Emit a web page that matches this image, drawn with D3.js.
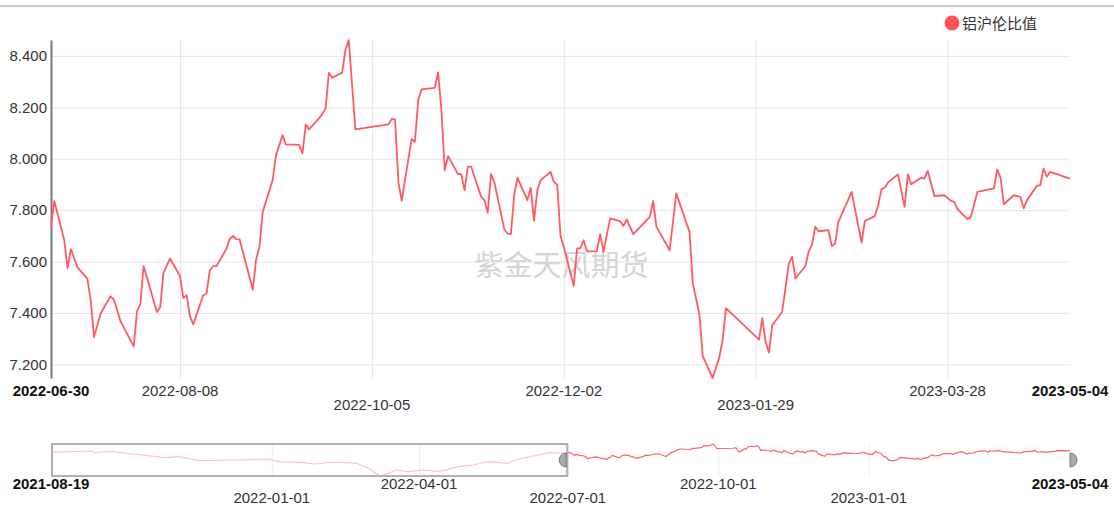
<!DOCTYPE html>
<html>
<head>
<meta charset="utf-8">
<script src="https://cdn.jsdelivr.net/npm/d3@7"></script>
<style>
body { margin: 0; background: #fff; }
text { font-family: "Liberation Sans", Arial, "Noto Sans CJK SC", sans-serif; }
</style>
</head>
<body>
<svg id="chart" width="1114" height="506"></svg>
<script>
// series shown in the main window
var dates = [
  "2022-06-30",
  "2022-07-01","2022-07-04","2022-07-05","2022-07-06","2022-07-08","2022-07-11","2022-07-12","2022-07-13","2022-07-15","2022-07-18","2022-07-19","2022-07-21","2022-07-25","2022-07-26","2022-07-27","2022-07-28",
  "2022-08-01","2022-08-02","2022-08-03","2022-08-05","2022-08-08","2022-08-09","2022-08-10","2022-08-11","2022-08-12","2022-08-15","2022-08-16","2022-08-17","2022-08-18","2022-08-19","2022-08-22","2022-08-23","2022-08-24","2022-08-25","2022-08-26","2022-08-30","2022-08-31",
  "2022-09-01","2022-09-02","2022-09-05","2022-09-06","2022-09-08","2022-09-09","2022-09-13","2022-09-14","2022-09-15","2022-09-16","2022-09-19","2022-09-20","2022-09-21","2022-09-22","2022-09-23","2022-09-26","2022-09-27","2022-09-28","2022-09-30",
  "2022-10-10","2022-10-11","2022-10-12","2022-10-13","2022-10-14","2022-10-17","2022-10-18","2022-10-19","2022-10-20","2022-10-24","2022-10-25","2022-10-26","2022-10-27","2022-10-28","2022-10-31",
  "2022-11-01","2022-11-02","2022-11-03","2022-11-04","2022-11-07","2022-11-08","2022-11-09","2022-11-10","2022-11-11","2022-11-14","2022-11-15","2022-11-16","2022-11-17","2022-11-18","2022-11-21","2022-11-22","2022-11-23","2022-11-24","2022-11-25","2022-11-28","2022-11-29","2022-11-30",
  "2022-12-01","2022-12-02","2022-12-05","2022-12-06","2022-12-07","2022-12-08","2022-12-09","2022-12-12","2022-12-13","2022-12-14","2022-12-16","2022-12-19","2022-12-20","2022-12-21","2022-12-23","2022-12-28","2022-12-29","2022-12-30",
  "2023-01-03","2023-01-05","2023-01-09","2023-01-10","2023-01-12","2023-01-13","2023-01-16","2023-01-18","2023-01-19","2023-01-20","2023-01-30","2023-01-31",
  "2023-02-01","2023-02-02","2023-02-03","2023-02-06","2023-02-08","2023-02-09","2023-02-10","2023-02-13","2023-02-14","2023-02-15","2023-02-16","2023-02-17","2023-02-20","2023-02-21","2023-02-22","2023-02-23","2023-02-27",
  "2023-03-02","2023-03-03","2023-03-06","2023-03-07","2023-03-08","2023-03-09","2023-03-10","2023-03-13","2023-03-15","2023-03-16","2023-03-17","2023-03-20","2023-03-21","2023-03-22","2023-03-24","2023-03-27","2023-03-29","2023-03-30","2023-03-31",
  "2023-04-03","2023-04-04","2023-04-06","2023-04-11","2023-04-12","2023-04-13","2023-04-14","2023-04-17","2023-04-19","2023-04-20","2023-04-21","2023-04-24","2023-04-25","2023-04-26","2023-04-27","2023-04-28",
  "2023-05-04"
];
var ratio = [
  7.738,
  7.835, 7.683, 7.575, 7.648, 7.577, 7.534, 7.449, 7.306, 7.398, 7.465, 7.452, 7.368, 7.270, 7.407, 7.434, 7.583,
  7.404, 7.423, 7.556, 7.612, 7.543, 7.458, 7.469, 7.387, 7.356, 7.469, 7.475, 7.566, 7.582, 7.582, 7.649, 7.687, 7.700, 7.687, 7.686, 7.491, 7.608,
  7.657, 7.793, 7.917, 8.014, 8.092, 8.056, 8.054, 8.021, 8.134, 8.114, 8.157, 8.174, 8.196, 8.335, 8.315, 8.335, 8.423, 8.462, 8.114,
  8.134, 8.155, 8.153, 7.910, 7.836, 8.077, 8.066, 8.229, 8.270, 8.276, 8.336, 8.190, 7.956, 8.010, 7.940,
  7.940, 7.878, 7.969, 7.969, 7.852, 7.839, 7.790, 7.940, 7.909, 7.726, 7.709, 7.707, 7.858, 7.926, 7.839, 7.887, 7.758, 7.878, 7.917, 7.949, 7.910, 7.900,
  7.700, 7.657, 7.505, 7.651, 7.651, 7.683, 7.640, 7.641, 7.707, 7.638, 7.768, 7.757, 7.738, 7.764, 7.707, 7.774, 7.836, 7.735,
  7.644, 7.865, 7.715, 7.514, 7.394, 7.231, 7.147, 7.228, 7.294, 7.419, 7.296, 7.380,
  7.287, 7.246, 7.352, 7.404, 7.592, 7.618, 7.534, 7.582, 7.638, 7.666, 7.735, 7.718, 7.722, 7.660, 7.670, 7.754, 7.871,
  7.674, 7.758, 7.777, 7.817, 7.881, 7.888, 7.908, 7.939, 7.813, 7.940, 7.901, 7.926, 7.923, 7.953, 7.855, 7.858, 7.836, 7.832, 7.804,
  7.765, 7.772, 7.871, 7.885, 7.959, 7.926, 7.823, 7.858, 7.852, 7.807, 7.839, 7.895, 7.897, 7.962, 7.930, 7.949,
  7.923
];
// earlier history, only visible in the zoom slider
var earlyDates = ["2021-08-19","2021-09-13","2021-09-15","2021-09-24","2021-10-08","2021-10-28","2021-11-05","2021-11-18","2021-12-07","2021-12-30",
  "2022-01-06","2022-01-20","2022-01-27","2022-02-08","2022-02-22","2022-03-01","2022-03-08","2022-03-14","2022-03-18","2022-03-25",
  "2022-04-04","2022-04-13","2022-04-25","2022-05-04","2022-05-13","2022-05-25","2022-05-30","2022-06-08","2022-06-20"];
var earlyRatio = [7.819, 7.920, 7.788, 7.896, 7.687, 7.400, 7.478, 7.168, 7.222, 7.276,
  7.090, 7.013, 6.912, 7.067, 6.966, 6.579, 5.982, 6.238, 6.447, 6.315,
  6.447, 6.315, 6.703, 6.835, 7.090, 6.966, 7.222, 7.478, 7.788];

var yTicks = [7.2, 7.4, 7.6, 7.8, 8.0, 8.2, 8.4];
var xTickDates = ["2022-08-08", "2022-10-05", "2022-12-02", "2023-01-29", "2023-03-28"];
var sliderTickDates = ["2022-01-01", "2022-04-01", "2022-07-01", "2022-10-01", "2023-01-01"];
var seriesName = "铝沪伦比值";
var watermark = "紫金天风期货";

var lineColor = "#ff5a64";
var parse = d3.timeParse("%Y-%m-%d");
var fmt = d3.timeFormat("%Y-%m-%d");

var main = dates.map(function(d, i){ return {date: parse(d), value: ratio[i]}; });
var early = earlyDates.map(function(d, i){ return {date: parse(d), value: earlyRatio[i]}; });
var all = early.concat(main);

var svg = d3.select("#chart");
var plot = {left: 51, right: 1070, top: 40, bottom: 378};
var slide = {top: 444, bottom: 476};

// top border
svg.append("line")
    .attr("x1", 0).attr("x2", 1114).attr("y1", 6).attr("y2", 6)
    .style("stroke", "#b4b4b4").style("stroke-width", 1.5);

var x = d3.scaleTime()
    .domain([main[0].date, main[main.length - 1].date])
    .range([plot.left, plot.right]);
var y = d3.scaleLinear()
    .domain(d3.extent(ratio))
    .range([plot.bottom, plot.top]);

// grid
svg.append("g")
    .attr("class", "grid-y")
    .attr("transform", "translate(" + plot.left + ",0)")
    .call(d3.axisLeft(y).tickValues(yTicks).tickSize(-(plot.right - plot.left)).tickFormat(""))
    .call(function(g){ g.select(".domain").remove(); })
    .selectAll("line").style("stroke", "#e6e6e6");

svg.append("g")
    .attr("class", "grid-x")
    .attr("transform", "translate(0," + plot.bottom + ")")
    .call(d3.axisBottom(x).tickValues(xTickDates.map(parse)).tickSize(-(plot.bottom - plot.top)).tickFormat(""))
    .call(function(g){ g.select(".domain").remove(); })
    .selectAll("line").style("stroke", "#e6e6e6");

// y axis
var yAxis = svg.append("g")
    .attr("class", "axis axis--y")
    .attr("transform", "translate(" + plot.left + ",0)")
    .call(d3.axisLeft(y).tickValues(yTicks).tickSize(0).tickSizeOuter(0).tickPadding(4).tickFormat(d3.format(".3f")));
yAxis.select(".domain").style("stroke", "#777").style("stroke-width", 2);
yAxis.selectAll("text").style("font-size", "15px").style("fill", "#333");

// staggered date labels
function dateLabels(g, scale, ticks, y0, y1, oddLow){
    ticks.forEach(function(t, i){
        var last = i == ticks.length - 1;
        var edge = i == 0 || last;
        var low = !edge && ((i % 2 == 1) == oddLow);
        g.append("text")
            .attr("x", scale(t))
            .attr("y", low ? y1 : y0)
            .attr("text-anchor", "middle")
            .style("font-size", "15px")
            .style("font-weight", edge ? "bold" : "normal")
            .style("fill", edge ? "#111" : "#333")
            .text(fmt(t));
    });
}
var xLabels = svg.append("g").attr("class", "axis axis--x");
dateLabels(xLabels, x, [main[0].date].concat(xTickDates.map(parse), [main[main.length - 1].date]), 396, 410, false);

// watermark
svg.append("text")
    .attr("x", (plot.left + plot.right) / 2 + 1)
    .attr("y", 276)
    .attr("text-anchor", "middle")
    .style("font-family", "'Noto Sans CJK SC', sans-serif")
    .style("font-size", "29px")
    .style("fill", "#d4d4d4")
    .text(watermark);

// main line
var line = d3.line()
    .x(function(d){ return x(d.date); })
    .y(function(d){ return y(d.value); });
svg.append("path")
    .datum(main)
    .attr("d", line)
    .style("fill", "none")
    .style("stroke", lineColor)
    .style("stroke-width", 1.8)
    .style("stroke-linejoin", "round");

// legend
var legend = svg.append("g").attr("transform", "translate(952,23)");
legend.append("circle").attr("r", 7.5).style("fill", "#ff5257");
legend.append("text")
    .attr("x", 10).attr("y", 5.5)
    .style("font-family", "'Noto Sans CJK SC', sans-serif")
    .style("font-size", "15px")
    .style("fill", "#333")
    .text(seriesName);

// zoom slider
var sx = d3.scaleTime()
    .domain([all[0].date, all[all.length - 1].date])
    .range([plot.left, plot.right]);
var sy = d3.scaleLinear()
    .domain(d3.extent(all, function(d){ return d.value; }))
    .range([slide.bottom, slide.top]);

svg.append("g")
    .attr("class", "slider-grid")
    .attr("transform", "translate(0," + slide.bottom + ")")
    .call(d3.axisBottom(sx).tickValues(sliderTickDates.map(parse)).tickSize(-(slide.bottom - slide.top)).tickFormat(""))
    .call(function(g){ g.select(".domain").remove(); })
    .selectAll("line").style("stroke", "#eee");

var sline = d3.line()
    .x(function(d){ return sx(d.date); })
    .y(function(d){ return sy(d.value); });
svg.append("path")
    .datum(early.concat([main[0]]))
    .attr("d", sline)
    .style("fill", "none")
    .style("stroke", "#ffc4c6")
    .style("stroke-width", 1.2);
svg.append("path")
    .datum(main)
    .attr("d", sline)
    .style("fill", "none")
    .style("stroke", "#ff6068")
    .style("stroke-width", 1.2);

var x0 = sx(main[0].date), x1 = sx(main[main.length - 1].date);
svg.append("rect")
    .attr("x", plot.left + 1).attr("y", slide.top)
    .attr("width", x0 - plot.left).attr("height", slide.bottom - slide.top)
    .style("fill", "none")
    .style("stroke", "#b0b0b0")
    .style("stroke-width", 2);

var hy = (slide.top + slide.bottom) / 2;
svg.append("path")
    .attr("d", "M" + x0 + "," + (hy - 7) + "A7,7 0 0 0 " + x0 + "," + (hy + 7) + "Z")
    .style("fill", "#aaa").style("stroke", "#777");
svg.append("path")
    .attr("d", "M" + x1 + "," + (hy - 7) + "A7,7 0 0 1 " + x1 + "," + (hy + 7) + "Z")
    .style("fill", "#aaa").style("stroke", "#777");

var sLabels = svg.append("g").attr("class", "slider-labels");
dateLabels(sLabels, sx, [all[0].date].concat(sliderTickDates.map(parse), [all[all.length - 1].date]), 489, 503, true);
</script>
</body>
</html>
